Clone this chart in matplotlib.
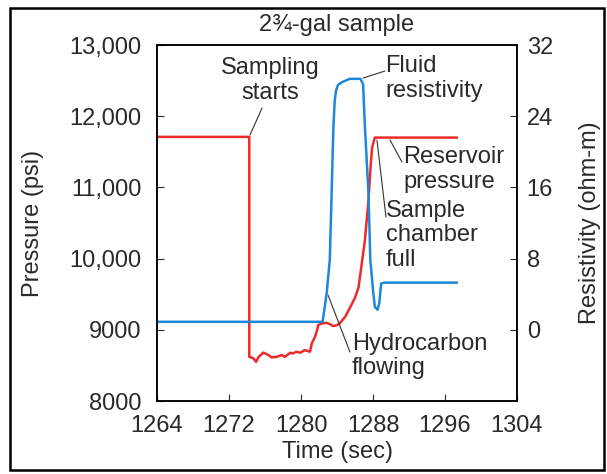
import matplotlib
matplotlib.use("Agg")
import matplotlib.pyplot as plt
from matplotlib.patches import Rectangle

plt.rcParams['font.family'] = ['Liberation Sans', 'DejaVu Sans']
plt.rcParams['font.size'] = 17

# pressure trace (red)
t_press = [1264, 1274.25, 1274.25, 1274.7, 1275.0, 1275.3, 1275.8, 1276.4, 1276.7,
           1277.3, 1277.85, 1278.2, 1278.8, 1279.1, 1279.5, 1279.9, 1280.4, 1281.0,
           1281.2, 1281.55, 1281.8, 1281.9, 1282.3, 1282.85, 1283.2, 1283.6, 1284.0,
           1284.3, 1284.9, 1285.4, 1286.0, 1286.4, 1286.7, 1287.1, 1287.5, 1287.7,
           1287.9, 1288.2, 1297.3]
pressure = [11710, 11710, 8620, 8600, 8550, 8620, 8680, 8645, 8613,
            8620, 8645, 8620, 8677, 8668, 8692, 8677, 8715, 8692,
            8810, 8900, 9000, 9066, 9090, 9098, 9080, 9052, 9066,
            9090, 9183, 9300, 9450, 9600, 9880, 10260, 10820, 11240,
            11560, 11700, 11700]

# resistivity trace (blue)
t_res = [1264, 1282.4, 1282.85, 1283.2, 1283.4, 1283.6, 1283.75, 1283.9, 1284.1, 1284.5,
         1285.4, 1286.6, 1286.9, 1287.1, 1287.5, 1287.7, 1288.0, 1288.2, 1288.5,
         1288.7, 1288.9, 1289.3, 1297.3]
resist = [0.9, 0.9, 4.1, 7.9, 15.3, 22.8, 25.8, 26.9, 27.5, 27.8,
          28.2, 28.2, 27.6, 22.8, 15.3, 7.9, 4.5, 2.6, 2.25,
          3.0, 5.2, 5.3, 5.3]

x_ticks = [1264, 1272, 1280, 1288, 1296, 1304]
p_ticks = [8000, 9000, 10000, 11000, 12000, 13000]
p_labels = ["8000", "9000", "10,000", "11,000", "12,000", "13,000"]
r_ticks = [0, 8, 16, 24, 32]

# (label, text anchor (t, p), leader from (t, p), leader to (t, p), ha)
notes = [
    ("Sampling\nstarts", (1276.56, 12500), (1274.33, 11736), (1275.67, 12115), 'center'),
    ("Fluid\nresistivity", (1289.33, 12530), (1286.89, 12536), (1289.33, 12635), 'left'),
    ("Reservoir\npressure", (1291.33, 11250), (1289.89, 11666), (1291.22, 11357), 'left'),
    ("Sample\nchamber\nfull", (1289.44, 10330), (1288.44, 11666), (1289.44, 10584), 'left'),
    ("Hydrocarbon\nflowing", (1285.67, 8630), (1283.0, 9489), (1285.44, 8688), 'left'),
]

fig = plt.figure(figsize=(6.07, 4.74), dpi=100)
ax = fig.add_axes([0.2587, 0.154, 0.593, 0.751])
ax2 = ax.twinx()

ax.plot(t_press, pressure, color='#ee2a2a', lw=1.8)
ax2.plot(t_res, resist, color='#1e88d8', lw=1.8)

ax.set_xlim(1264, 1304)
ax.set_ylim(8000, 13000)
ax2.set_ylim(-8, 32)
ax.set_xticks(x_ticks)
ax.set_yticks(p_ticks)
ax.set_yticklabels(p_labels)
ax2.set_yticks(r_ticks)

ax.tick_params(axis='x', direction='in', length=5, pad=10, colors='#2a2a2a')
ax.tick_params(axis='y', direction='in', length=5, pad=11, colors='#2a2a2a')
ax2.tick_params(axis='y', direction='in', length=5, pad=7, colors='#2a2a2a')
for a in (ax, ax2):
    for s in a.spines.values():
        s.set_linewidth(1.1)

ax.set_title("2\u00be-gal sample", pad=10, fontsize=17, color='#2a2a2a')
ax.set_xlabel("Time (sec)", labelpad=3, color='#2a2a2a')
ax.set_ylabel("Pressure (psi)", color='#2a2a2a')
ax.yaxis.set_label_coords(-0.314, 0.5)
ax2.set_ylabel("Resistivity (ohm-m)", color='#2a2a2a')
ax2.yaxis.set_label_coords(1.172, 0.5)

for label, pos, a, b, ha in notes:
    ax.annotate('', xy=a, xytext=b,
                arrowprops=dict(arrowstyle='-', lw=0.8, color='#333',
                                shrinkA=0, shrinkB=0))
    ax.text(pos[0], pos[1], label, ha=ha, va='center', multialignment=ha,
            color='#2a2a2a', linespacing=1.15)

fig.patches.append(Rectangle((0.0165, 0.0084), 0.9786, 0.9747, transform=fig.transFigure,
                             fill=False, lw=1.8, edgecolor='black'))

fig.savefig("out.png", dpi=100)
